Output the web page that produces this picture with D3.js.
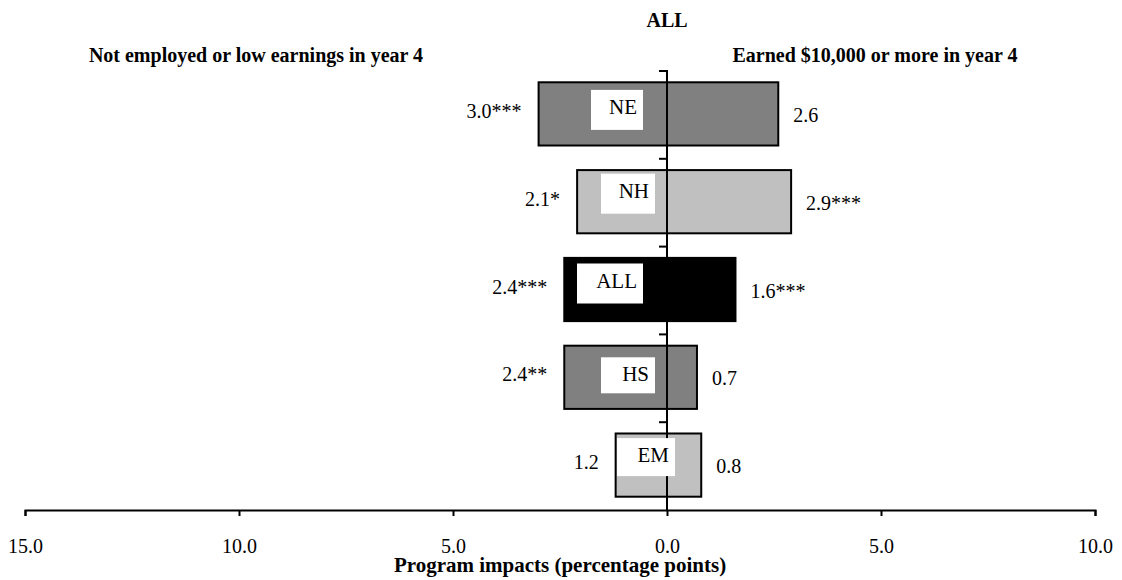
<!DOCTYPE html>
<meta charset="UTF-8">
<head>
<title>Program impacts</title>
<script src="https://cdnjs.cloudflare.com/ajax/libs/d3/7.8.5/d3.min.js"></script>
<style>
body { margin: 0; background: #fff; }
text { font-family: "Liberation Serif", "Times New Roman", serif; fill: #000; }
.bar { stroke: #000; stroke-width: 2px; }
.axis path, .axis line { stroke: #000; stroke-width: 2px; }
.axis text { font-size: 20px; }
.val { font-size: 20px; }
.tag { font-size: 21px; }
.head { font-size: 20px; font-weight: bold; }
.xtitle { font-size: 21px; font-weight: bold; }
</style>
</head>
<body>
<script>

// categories, top to bottom
var categories = ["NE", "NH", "ALL", "HS", "EM"];

// not employed or low earnings in year 4 (drawn to the left)
var lowValues = [3.0, 2.1, 2.4, 2.4, 1.2];
var lowStars  = ["***", "*", "***", "**", ""];

// earned $10,000 or more in year 4 (drawn to the right)
var highValues = [2.6, 2.9, 1.6, 0.7, 0.8];
var highStars  = ["", "***", "***", "", ""];

var tickValues = [-15, -10, -5, 0, 5, 10];

// styling / layout only
var fills = ["#808080", "#c0c0c0", "#000000", "#808080", "#c0c0c0"];
// white label boxes: right edge (px from zero), top (px from band centre), width, height
var tagBoxes = [
  {dx: -24, dy: -24, w: 52, h: 40},
  {dx: -12, dy: -28, w: 54, h: 40},
  {dx: -24, dy: -26, w: 66, h: 40},
  {dx: -12, dy: -20, w: 54, h: 36},
  {dx:   8, dy: -27, w: 58, h: 38}
];

var width = 1122, height = 580;

var svg = d3.select("body").append("svg")
    .attr("width", width)
    .attr("height", height);

var x = d3.scaleLinear().domain([-15, 10]).range([25, 1095]);
var y = d3.scaleBand().domain(categories).range([70, 509])
    .paddingInner(0.28).paddingOuter(0.14);

var rows = categories.map(function(c, i) {
  return {cat: c, low: lowValues[i], high: highValues[i],
          lowS: lowStars[i], highS: highStars[i], fill: fills[i], box: tagBoxes[i]};
});

// bars
var g = svg.append("g");
g.selectAll("rect.low").data(rows).enter().append("rect")
    .attr("class", "bar low")
    .attr("x", function(d) { return x(-d.low); })
    .attr("y", function(d) { return y(d.cat); })
    .attr("width", function(d) { return x(0) - x(-d.low); })
    .attr("height", y.bandwidth())
    .style("fill", function(d) { return d.fill; });

g.selectAll("rect.high").data(rows).enter().append("rect")
    .attr("class", "bar high")
    .attr("x", x(0))
    .attr("y", function(d) { return y(d.cat); })
    .attr("width", function(d) { return x(d.high) - x(0); })
    .attr("height", y.bandwidth())
    .style("fill", function(d) { return d.fill; });

// vertical axis with ticks at band boundaries
var top0 = y.range()[0], bot0 = y.range()[1];
var yAxis = svg.append("g").attr("class", "axis");
yAxis.append("line")
    .attr("x1", x(0)).attr("x2", x(0))
    .attr("y1", top0).attr("y2", bot0 + 1);
var bounds = d3.range(categories.length).map(function(i) { return top0 + i * y.step(); });
yAxis.selectAll("line.tick").data(bounds).enter().append("line")
    .attr("class", "tick")
    .attr("x1", x(0) - 8).attr("x2", x(0))
    .attr("y1", function(d) { return d + 1; })
    .attr("y2", function(d) { return d + 1; });

// bottom axis
var xAxis = d3.axisBottom(x)
    .tickValues(tickValues)
    .tickSizeInner(6)
    .tickSizeOuter(6)
    .tickFormat(function(d) { return Math.abs(d).toFixed(1); });

svg.append("g")
    .attr("class", "axis")
    .attr("transform", "translate(0,510)")
    .call(xAxis)
  .selectAll("text")
    .attr("y", 43)
    .attr("dy", 0);

// value labels
var cy = function(d) { return y(d.cat) + y.bandwidth() / 2; };
svg.selectAll("text.lowv").data(rows).enter().append("text")
    .attr("class", "val lowv")
    .attr("x", function(d) { return x(-d.low) - 17; })
    .attr("y", function(d) { return cy(d) - 3; })
    .attr("dy", "0.35em")
    .attr("text-anchor", "end")
    .text(function(d) { return d.low.toFixed(1) + d.lowS; });

svg.selectAll("text.highv").data(rows).enter().append("text")
    .attr("class", "val highv")
    .attr("x", function(d) { return x(d.high) + 15; })
    .attr("y", function(d) { return cy(d) + 1; })
    .attr("dy", "0.35em")
    .attr("text-anchor", "start")
    .text(function(d) { return d.high.toFixed(1) + d.highS; });

// white category tags
var tags = svg.selectAll("g.tagbox").data(rows).enter().append("g")
    .attr("class", "tagbox")
    .attr("transform", function(d) {
      return "translate(" + (x(0) + d.box.dx) + "," + (cy(d) + d.box.dy) + ")";
    });
tags.append("rect")
    .attr("x", function(d) { return -d.box.w; })
    .attr("width", function(d) { return d.box.w; })
    .attr("height", function(d) { return d.box.h; })
    .style("fill", "#fff");
tags.append("text")
    .attr("class", "tag")
    .attr("x", -6)
    .attr("y", 24)
    .attr("text-anchor", "end")
    .text(function(d) { return d.cat; });

// titles
svg.append("text").attr("class", "head")
    .attr("x", x(0)).attr("y", 27).attr("text-anchor", "middle").text("ALL");
svg.append("text").attr("class", "head")
    .attr("x", 256).attr("y", 62).attr("text-anchor", "middle")
    .text("Not employed or low earnings in year 4");
svg.append("text").attr("class", "head")
    .attr("x", 875).attr("y", 62).attr("text-anchor", "middle")
    .text("Earned $10,000 or more in year 4");
svg.append("text").attr("class", "xtitle")
    .attr("x", 560).attr("y", 572).attr("text-anchor", "middle")
    .text("Program impacts (percentage points)");

</script>
</body>
</html>
